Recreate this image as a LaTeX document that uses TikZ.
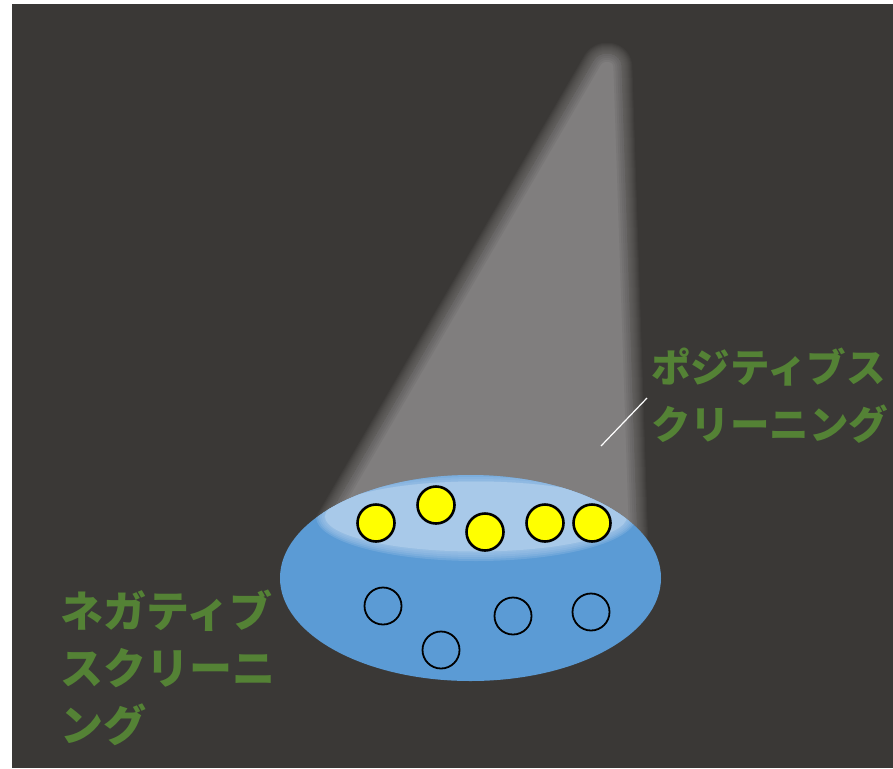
\documentclass[tikz,border=0pt]{standalone}
\usepackage{fontspec}
\newfontfamily\jpfont{Noto Sans CJK JP}
\definecolor{bgdark}{RGB}{58,56,54}
\definecolor{beamgray}{RGB}{128,126,126}
\definecolor{dishblue}{RGB}{91,155,213}
\definecolor{surfblue}{RGB}{168,201,233}
\definecolor{labelgreen}{RGB}{84,130,53}
\definecolor{hityellow}{RGB}{255,255,0}
\tikzset{
  hit/.style={circle, draw=black, line width=2.6pt, fill=hityellow, minimum size=37pt, inner sep=0pt},
  miss/.style={circle, draw=black, line width=1.8pt, fill=dishblue, minimum size=37pt, inner sep=0pt},
  label/.style={text=labelgreen, align=left, inner sep=0pt},
  leader/.style={draw=white, line width=1.2pt},
}
\begin{document}
\begin{tikzpicture}[x=1pt,y=-1pt]
\useasboundingbox (0,0) rectangle (893,768);
\fill[white] (0,0) rectangle (893,768);
\fill[bgdark] (12,4) rectangle (893,768);

% light beam with a soft edge
\def\beampath{(318,535) [rounded corners=10pt]-- (599,52) -- (621,56) [sharp corners]-- (637,535) -- cycle}
\foreach \w in {22,20,18,16,14,12,10,8,6,4,2}{
  \draw[beamgray, line width=\w pt, opacity=0.08, line join=round] \beampath;
}
\fill[beamgray] \beampath;
\begin{scope}
  \clip \beampath;
  \foreach \w in {16,12,8,4}{
    \draw[bgdark, line width=\w pt, opacity=0.09, line join=round] \beampath;
  }
\end{scope}

% dish
\fill[dishblue] (470.5,578) ellipse [x radius=190.5, y radius=103];

% lit surface with a soft rim
\begin{scope}
  \clip (470.5,578) ellipse [x radius=190.5, y radius=103];
  \foreach \d in {0,2,4,6,8}{
    \fill[surfblue, opacity=0.25] (476,517) ellipse [x radius=160-\d, y radius=44-\d];
  }
  \fill[surfblue] (476,516.5) ellipse [x radius=151, y radius=35];
\end{scope}

% selected items
\node[hit] (h1) at (376,523) {};
\node[hit] (h2) at (436,505) {};
\node[hit] (h3) at (485,532) {};
\node[hit] (h4) at (545,523) {};
\node[hit] (h5) at (592,523) {};

% remaining items
\node[miss] (m1) at (383,606) {};
\node[miss] (m2) at (513,616) {};
\node[miss] (m3) at (591,612) {};
\node[miss] (m4) at (441,650) {};

% labels
\node[label, font=\jpfont\bfseries\fontsize{39.5}{57}\selectfont, anchor=north west] (pos) at (651,348) {ポジティブス\\クリーニング};
\node[label, font=\jpfont\bfseries\fontsize{43}{57}\selectfont, anchor=north west] (neg) at (60,590) {ネガティブ\\スクリーニ\\ング};

\coordinate (beamspot) at (601,446);
\coordinate (posfoot) at (647,398);
\draw[leader] (beamspot) -- (posfoot);
\end{tikzpicture}
\end{document}
